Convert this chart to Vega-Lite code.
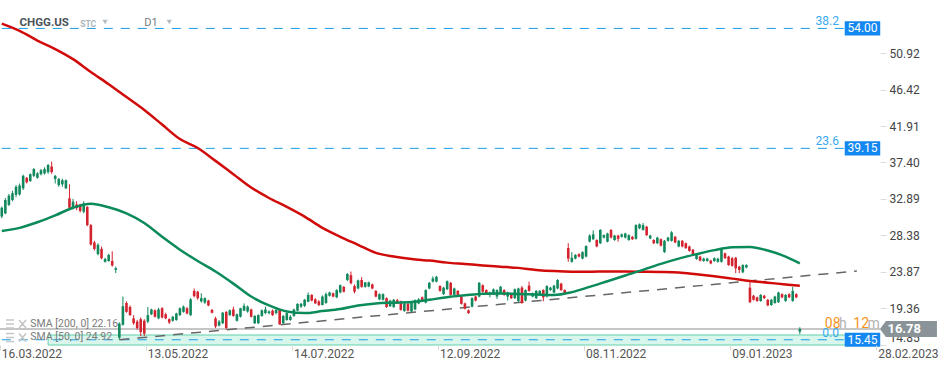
{
  "$schema": "https://vega.github.io/schema/vega-lite/v6.json",
  "width": 880,
  "height": 345,
  "autosize": {"type": "none"},
  "padding": {"left": 0, "top": 0, "right": 69, "bottom": 25},
  "background": "white",
  "config": {"view": {"stroke": null}, "font": "Roboto", "text": {"font": "Roboto"}},
  "datasets": {
    "bars": [
      {"d":"2022-03-16","o":30.7,"h":31.95,"l":30.5,"c":31.8},
      {"d":"2022-03-17","o":31.1,"h":33.0,"l":31.0,"c":32.75},
      {"d":"2022-03-18","o":32.15,"h":33.5,"l":32.0,"c":33.3},
      {"d":"2022-03-21","o":32.75,"h":33.9,"l":32.6,"c":33.6},
      {"d":"2022-03-22","o":33.4,"h":34.6,"l":33.1,"c":34.4},
      {"d":"2022-03-23","o":33.45,"h":34.8,"l":33.3,"c":34.55},
      {"d":"2022-03-24","o":34.2,"h":35.9,"l":34.0,"c":35.75},
      {"d":"2022-03-25","o":35.5,"h":35.6,"l":34.8,"c":34.95},
      {"d":"2022-03-28","o":35.1,"h":36.05,"l":35.0,"c":35.95},
      {"d":"2022-03-29","o":35.75,"h":36.7,"l":35.6,"c":36.6},
      {"d":"2022-03-30","o":35.5,"h":36.2,"l":35.4,"c":36.05},
      {"d":"2022-03-31","o":35.95,"h":36.6,"l":35.8,"c":36.45},
      {"d":"2022-04-01","o":36.05,"h":36.8,"l":35.9,"c":36.6},
      {"d":"2022-04-04","o":36.2,"h":37.2,"l":36.0,"c":37.1},
      {"d":"2022-04-05","o":36.9,"h":37.5,"l":36.0,"c":36.2},
      {"d":"2022-04-06","o":35.35,"h":35.85,"l":34.8,"c":35.75},
      {"d":"2022-04-07","o":34.6,"h":35.5,"l":34.4,"c":35.35},
      {"d":"2022-04-08","o":34.7,"h":35.4,"l":34.4,"c":35.2},
      {"d":"2022-04-11","o":34.2,"h":35.3,"l":34.1,"c":35.2},
      {"d":"2022-04-12","o":32.95,"h":34.7,"l":31.7,"c":31.8},
      {"d":"2022-04-13","o":31.8,"h":32.9,"l":31.6,"c":32.55},
      {"d":"2022-04-14","o":32.2,"h":32.6,"l":31.5,"c":31.75},
      {"d":"2022-04-18","o":32.15,"h":32.3,"l":31.2,"c":31.4},
      {"d":"2022-04-19","o":31.3,"h":32.6,"l":31.1,"c":32.35},
      {"d":"2022-04-20","o":31.9,"h":32.0,"l":29.5,"c":29.65},
      {"d":"2022-04-21","o":29.65,"h":29.8,"l":27.1,"c":27.25},
      {"d":"2022-04-22","o":27.5,"h":27.7,"l":26.5,"c":26.7},
      {"d":"2022-04-25","o":26.05,"h":27.4,"l":25.9,"c":27.2},
      {"d":"2022-04-26","o":26.7,"h":27.0,"l":25.4,"c":25.55},
      {"d":"2022-04-27","o":25.1,"h":25.6,"l":25.0,"c":25.45},
      {"d":"2022-04-28","o":25.2,"h":26.1,"l":25.1,"c":25.95},
      {"d":"2022-04-29","o":25.2,"h":26.4,"l":24.5,"c":24.65},
      {"d":"2022-05-02","o":24.1,"h":24.5,"l":23.7,"c":24.3},
      {"d":"2022-05-03","o":15.7,"h":17.6,"l":15.45,"c":17.45},
      {"d":"2022-05-04","o":17.3,"h":20.8,"l":17.2,"c":19.6},
      {"d":"2022-05-05","o":20.0,"h":20.2,"l":18.8,"c":18.9},
      {"d":"2022-05-06","o":19.5,"h":19.7,"l":18.4,"c":18.5},
      {"d":"2022-05-09","o":18.1,"h":18.5,"l":17.3,"c":17.5},
      {"d":"2022-05-10","o":17.7,"h":17.9,"l":16.7,"c":16.9},
      {"d":"2022-05-11","o":18.0,"h":18.2,"l":15.9,"c":16.4},
      {"d":"2022-05-12","o":17.8,"h":18.0,"l":15.9,"c":16.2},
      {"d":"2022-05-13","o":17.7,"h":19.5,"l":17.5,"c":18.5},
      {"d":"2022-05-16","o":18.6,"h":19.3,"l":18.5,"c":19.2},
      {"d":"2022-05-17","o":19.1,"h":19.2,"l":18.2,"c":18.3},
      {"d":"2022-05-18","o":18.1,"h":19.4,"l":18.0,"c":19.2},
      {"d":"2022-05-19","o":19.35,"h":19.5,"l":18.1,"c":18.2},
      {"d":"2022-05-20","o":18.6,"h":18.8,"l":18.0,"c":18.1},
      {"d":"2022-05-23","o":18.0,"h":18.1,"l":17.4,"c":17.6},
      {"d":"2022-05-24","o":17.8,"h":18.4,"l":17.7,"c":18.3},
      {"d":"2022-05-25","o":17.9,"h":18.8,"l":17.8,"c":18.7},
      {"d":"2022-05-26","o":18.5,"h":19.45,"l":18.4,"c":19.35},
      {"d":"2022-05-27","o":18.9,"h":19.7,"l":18.8,"c":19.55},
      {"d":"2022-05-31","o":19.35,"h":19.5,"l":18.6,"c":18.7},
      {"d":"2022-06-01","o":18.5,"h":20.6,"l":18.4,"c":20.45},
      {"d":"2022-06-02","o":21.5,"h":21.8,"l":20.7,"c":20.85},
      {"d":"2022-06-03","o":21.4,"h":21.5,"l":20.4,"c":20.6},
      {"d":"2022-06-06","o":20.2,"h":21.2,"l":20.05,"c":20.6},
      {"d":"2022-06-07","o":20.05,"h":20.7,"l":19.9,"c":20.6},
      {"d":"2022-06-08","o":20.3,"h":20.4,"l":19.6,"c":19.7},
      {"d":"2022-06-09","o":19.15,"h":19.25,"l":18.7,"c":18.8},
      {"d":"2022-06-10","o":18.1,"h":18.3,"l":16.9,"c":17.1},
      {"d":"2022-06-13","o":17.2,"h":17.9,"l":17.1,"c":17.7},
      {"d":"2022-06-14","o":17.5,"h":18.9,"l":17.4,"c":18.8},
      {"d":"2022-06-15","o":18.9,"h":19.0,"l":16.7,"c":16.9},
      {"d":"2022-06-16","o":18.5,"h":19.2,"l":18.4,"c":19.1},
      {"d":"2022-06-17","o":19.2,"h":19.55,"l":18.3,"c":18.4},
      {"d":"2022-06-21","o":17.8,"h":18.7,"l":17.7,"c":18.6},
      {"d":"2022-06-22","o":18.3,"h":19.4,"l":18.2,"c":19.35},
      {"d":"2022-06-23","o":19.05,"h":19.95,"l":19.0,"c":19.65},
      {"d":"2022-06-24","o":18.95,"h":19.7,"l":18.8,"c":19.55},
      {"d":"2022-06-27","o":19.2,"h":19.3,"l":18.2,"c":18.3},
      {"d":"2022-06-28","o":17.5,"h":18.5,"l":17.4,"c":18.4},
      {"d":"2022-06-29","o":17.5,"h":18.6,"l":17.4,"c":18.5},
      {"d":"2022-06-30","o":18.4,"h":19.2,"l":18.3,"c":19.1},
      {"d":"2022-07-01","o":18.75,"h":19.55,"l":18.6,"c":19.2},
      {"d":"2022-07-05","o":18.75,"h":19.1,"l":18.6,"c":18.95},
      {"d":"2022-07-06","o":19.05,"h":19.2,"l":18.4,"c":18.5},
      {"d":"2022-07-07","o":18.75,"h":19.3,"l":18.6,"c":19.15},
      {"d":"2022-07-08","o":19.15,"h":19.3,"l":17.3,"c":17.35},
      {"d":"2022-07-11","o":17.5,"h":18.5,"l":17.4,"c":18.4},
      {"d":"2022-07-12","o":17.9,"h":18.8,"l":17.8,"c":18.75},
      {"d":"2022-07-13","o":17.9,"h":18.5,"l":17.8,"c":18.3},
      {"d":"2022-07-14","o":18.4,"h":19.3,"l":18.3,"c":19.2},
      {"d":"2022-07-15","o":19.05,"h":19.95,"l":19.0,"c":19.9},
      {"d":"2022-07-18","o":19.55,"h":20.0,"l":19.4,"c":19.9},
      {"d":"2022-07-19","o":19.65,"h":20.5,"l":19.5,"c":20.4},
      {"d":"2022-07-20","o":20.15,"h":21.3,"l":20.1,"c":21.0},
      {"d":"2022-07-21","o":21.0,"h":21.1,"l":20.2,"c":20.3},
      {"d":"2022-07-22","o":20.45,"h":20.6,"l":19.9,"c":19.95},
      {"d":"2022-07-25","o":20.2,"h":20.35,"l":19.6,"c":19.75},
      {"d":"2022-07-26","o":19.75,"h":20.95,"l":19.7,"c":20.8},
      {"d":"2022-07-27","o":20.0,"h":21.3,"l":19.9,"c":21.1},
      {"d":"2022-07-28","o":20.9,"h":21.4,"l":20.8,"c":21.3},
      {"d":"2022-07-29","o":21.2,"h":21.3,"l":20.7,"c":20.8},
      {"d":"2022-08-01","o":20.7,"h":21.7,"l":20.6,"c":21.6},
      {"d":"2022-08-02","o":21.3,"h":22.3,"l":21.2,"c":22.2},
      {"d":"2022-08-03","o":22.0,"h":22.1,"l":21.3,"c":21.4},
      {"d":"2022-08-04","o":22.85,"h":23.7,"l":22.7,"c":23.6},
      {"d":"2022-08-05","o":23.45,"h":23.9,"l":22.3,"c":22.45},
      {"d":"2022-08-08","o":22.1,"h":22.3,"l":21.2,"c":21.4},
      {"d":"2022-08-09","o":21.8,"h":22.9,"l":21.7,"c":22.8},
      {"d":"2022-08-10","o":22.85,"h":23.2,"l":21.9,"c":22.0},
      {"d":"2022-08-11","o":22.0,"h":22.6,"l":21.9,"c":22.55},
      {"d":"2022-08-12","o":22.05,"h":22.65,"l":21.95,"c":22.55},
      {"d":"2022-08-15","o":22.3,"h":22.4,"l":21.7,"c":21.8},
      {"d":"2022-08-16","o":21.5,"h":21.6,"l":20.7,"c":20.8},
      {"d":"2022-08-17","o":20.45,"h":21.2,"l":20.35,"c":21.1},
      {"d":"2022-08-18","o":20.4,"h":21.2,"l":20.3,"c":21.1},
      {"d":"2022-08-19","o":20.6,"h":20.7,"l":19.4,"c":19.5},
      {"d":"2022-08-22","o":19.6,"h":20.4,"l":19.5,"c":20.3},
      {"d":"2022-08-23","o":19.5,"h":20.5,"l":19.4,"c":20.4},
      {"d":"2022-08-24","o":20.35,"h":20.5,"l":19.9,"c":19.95},
      {"d":"2022-08-25","o":20.15,"h":20.3,"l":19.05,"c":19.15},
      {"d":"2022-08-26","o":19.0,"h":20.05,"l":18.9,"c":19.95},
      {"d":"2022-08-29","o":19.9,"h":20.0,"l":18.95,"c":19.05},
      {"d":"2022-08-30","o":18.95,"h":20.15,"l":18.85,"c":20.05},
      {"d":"2022-08-31","o":19.2,"h":20.45,"l":19.1,"c":20.35},
      {"d":"2022-09-01","o":19.95,"h":20.6,"l":19.85,"c":20.45},
      {"d":"2022-09-02","o":20.7,"h":20.8,"l":20.2,"c":20.3},
      {"d":"2022-09-06","o":20.05,"h":21.7,"l":19.95,"c":21.6},
      {"d":"2022-09-07","o":21.8,"h":22.6,"l":21.7,"c":22.5},
      {"d":"2022-09-08","o":22.65,"h":23.3,"l":22.55,"c":23.05},
      {"d":"2022-09-09","o":22.65,"h":23.35,"l":22.55,"c":23.25},
      {"d":"2022-09-12","o":22.1,"h":22.2,"l":21.4,"c":21.5},
      {"d":"2022-09-13","o":21.1,"h":22.0,"l":21.0,"c":21.9},
      {"d":"2022-09-14","o":21.7,"h":22.8,"l":21.6,"c":22.7},
      {"d":"2022-09-15","o":22.5,"h":22.6,"l":20.9,"c":21.0},
      {"d":"2022-09-16","o":21.0,"h":21.9,"l":20.9,"c":21.8},
      {"d":"2022-09-19","o":21.5,"h":21.6,"l":20.9,"c":21.0},
      {"d":"2022-09-20","o":20.8,"h":20.9,"l":19.8,"c":19.9},
      {"d":"2022-09-21","o":19.95,"h":20.05,"l":19.2,"c":19.3},
      {"d":"2022-09-22","o":19.1,"h":19.2,"l":18.65,"c":18.75},
      {"d":"2022-09-23","o":19.55,"h":20.7,"l":19.45,"c":20.6},
      {"d":"2022-09-26","o":20.8,"h":20.9,"l":20.2,"c":20.3},
      {"d":"2022-09-27","o":20.8,"h":22.6,"l":20.7,"c":22.5},
      {"d":"2022-09-28","o":22.2,"h":22.3,"l":21.3,"c":21.4},
      {"d":"2022-09-29","o":21.6,"h":21.7,"l":21.1,"c":21.2},
      {"d":"2022-09-30","o":21.0,"h":21.4,"l":20.7,"c":21.3},
      {"d":"2022-10-03","o":21.1,"h":21.8,"l":21.0,"c":21.7},
      {"d":"2022-10-04","o":20.8,"h":21.7,"l":20.5,"c":21.6},
      {"d":"2022-10-05","o":21.2,"h":22.1,"l":21.1,"c":22.03},
      {"d":"2022-10-06","o":21.6,"h":21.7,"l":20.9,"c":21.0},
      {"d":"2022-10-07","o":20.8,"h":21.4,"l":20.3,"c":21.3},
      {"d":"2022-10-10","o":21.1,"h":21.2,"l":20.5,"c":20.6},
      {"d":"2022-10-11","o":20.6,"h":21.8,"l":20.5,"c":21.7},
      {"d":"2022-10-12","o":20.25,"h":21.9,"l":20.1,"c":21.8},
      {"d":"2022-10-13","o":21.9,"h":22.1,"l":19.9,"c":20.0},
      {"d":"2022-10-14","o":20.3,"h":21.7,"l":20.2,"c":21.6},
      {"d":"2022-10-17","o":22.15,"h":22.65,"l":21.4,"c":21.5},
      {"d":"2022-10-18","o":20.8,"h":21.3,"l":20.7,"c":21.2},
      {"d":"2022-10-19","o":20.6,"h":21.6,"l":20.5,"c":21.5},
      {"d":"2022-10-20","o":21.0,"h":21.6,"l":20.9,"c":21.5},
      {"d":"2022-10-21","o":21.6,"h":21.7,"l":20.2,"c":20.7},
      {"d":"2022-10-24","o":20.8,"h":22.2,"l":20.7,"c":22.1},
      {"d":"2022-10-25","o":21.6,"h":22.0,"l":21.5,"c":21.9},
      {"d":"2022-10-26","o":21.3,"h":22.25,"l":21.2,"c":22.15},
      {"d":"2022-10-27","o":21.8,"h":22.95,"l":21.7,"c":22.85},
      {"d":"2022-10-28","o":22.4,"h":22.5,"l":21.5,"c":21.6},
      {"d":"2022-10-31","o":21.6,"h":21.7,"l":21.1,"c":21.2},
      {"d":"2022-11-01","o":26.8,"h":27.4,"l":25.1,"c":25.5},
      {"d":"2022-11-02","o":25.1,"h":26.3,"l":25.0,"c":25.6},
      {"d":"2022-11-03","o":25.5,"h":26.05,"l":25.4,"c":25.95},
      {"d":"2022-11-04","o":26.05,"h":26.15,"l":25.65,"c":25.75},
      {"d":"2022-11-07","o":25.5,"h":26.4,"l":25.4,"c":26.3},
      {"d":"2022-11-08","o":25.75,"h":27.15,"l":25.65,"c":27.05},
      {"d":"2022-11-09","o":27.6,"h":28.5,"l":27.5,"c":28.35},
      {"d":"2022-11-10","o":27.9,"h":29.0,"l":27.8,"c":28.5},
      {"d":"2022-11-11","o":27.8,"h":27.9,"l":26.9,"c":27.0},
      {"d":"2022-11-14","o":27.4,"h":29.15,"l":27.3,"c":29.05},
      {"d":"2022-11-15","o":28.1,"h":28.5,"l":28.0,"c":28.4},
      {"d":"2022-11-16","o":27.6,"h":28.7,"l":27.5,"c":28.6},
      {"d":"2022-11-17","o":29.05,"h":29.15,"l":28.0,"c":28.1},
      {"d":"2022-11-18","o":27.8,"h":28.45,"l":27.7,"c":28.35},
      {"d":"2022-11-21","o":28.35,"h":28.45,"l":27.6,"c":27.95},
      {"d":"2022-11-22","o":28.2,"h":28.6,"l":28.1,"c":28.5},
      {"d":"2022-11-23","o":28.1,"h":28.7,"l":28.0,"c":28.6},
      {"d":"2022-11-25","o":27.8,"h":28.5,"l":27.7,"c":28.4},
      {"d":"2022-11-28","o":28.2,"h":28.3,"l":27.8,"c":27.9},
      {"d":"2022-11-29","o":27.95,"h":29.75,"l":27.85,"c":29.65},
      {"d":"2022-11-30","o":29.25,"h":29.85,"l":29.15,"c":29.75},
      {"d":"2022-12-01","o":29.05,"h":29.9,"l":28.95,"c":29.65},
      {"d":"2022-12-02","o":29.45,"h":29.55,"l":28.3,"c":28.4},
      {"d":"2022-12-05","o":28.0,"h":28.45,"l":27.9,"c":28.35},
      {"d":"2022-12-06","o":27.8,"h":27.9,"l":27.3,"c":27.4},
      {"d":"2022-12-07","o":27.4,"h":28.2,"l":27.3,"c":28.1},
      {"d":"2022-12-08","o":27.9,"h":28.0,"l":27.0,"c":27.1},
      {"d":"2022-12-09","o":26.3,"h":27.8,"l":26.2,"c":27.7},
      {"d":"2022-12-12","o":27.7,"h":28.2,"l":27.6,"c":28.1},
      {"d":"2022-12-13","o":27.7,"h":28.9,"l":27.6,"c":28.75},
      {"d":"2022-12-14","o":28.2,"h":28.3,"l":27.4,"c":27.5},
      {"d":"2022-12-15","o":27.0,"h":27.8,"l":26.9,"c":27.7},
      {"d":"2022-12-16","o":27.7,"h":27.8,"l":26.9,"c":27.0},
      {"d":"2022-12-19","o":27.4,"h":27.5,"l":26.7,"c":26.8},
      {"d":"2022-12-20","o":27.0,"h":27.1,"l":26.35,"c":26.45},
      {"d":"2022-12-21","o":26.6,"h":26.7,"l":25.9,"c":26.0},
      {"d":"2022-12-22","o":25.45,"h":26.1,"l":25.35,"c":26.0},
      {"d":"2022-12-23","o":25.75,"h":25.85,"l":25.15,"c":25.25},
      {"d":"2022-12-27","o":25.2,"h":25.6,"l":25.1,"c":25.5},
      {"d":"2022-12-28","o":25.2,"h":25.6,"l":25.1,"c":25.5},
      {"d":"2022-12-29","o":25.25,"h":25.35,"l":24.8,"c":24.9},
      {"d":"2022-12-30","o":25.2,"h":25.65,"l":25.1,"c":25.55},
      {"d":"2023-01-03","o":25.1,"h":25.6,"l":25.0,"c":25.5},
      {"d":"2023-01-04","o":25.1,"h":26.8,"l":25.0,"c":26.7},
      {"d":"2023-01-05","o":26.15,"h":26.25,"l":25.45,"c":25.55},
      {"d":"2023-01-06","o":25.75,"h":25.85,"l":24.6,"c":24.7},
      {"d":"2023-01-09","o":25.55,"h":25.7,"l":24.5,"c":24.6},
      {"d":"2023-01-10","o":25.6,"h":25.7,"l":23.7,"c":24.3},
      {"d":"2023-01-11","o":24.5,"h":24.6,"l":23.7,"c":24.1},
      {"d":"2023-01-12","o":23.8,"h":24.8,"l":23.7,"c":24.7},
      {"d":"2023-01-13","o":24.4,"h":24.8,"l":24.3,"c":24.7},
      {"d":"2023-01-17","o":21.9,"h":22.65,"l":20.0,"c":20.1},
      {"d":"2023-01-18","o":20.9,"h":21.0,"l":20.3,"c":20.4},
      {"d":"2023-01-19","o":20.7,"h":20.8,"l":20.15,"c":20.25},
      {"d":"2023-01-20","o":20.25,"h":21.1,"l":20.15,"c":21.0},
      {"d":"2023-01-23","o":20.9,"h":21.0,"l":20.5,"c":20.6},
      {"d":"2023-01-24","o":20.4,"h":20.5,"l":19.6,"c":19.7},
      {"d":"2023-01-25","o":19.75,"h":20.5,"l":19.65,"c":20.4},
      {"d":"2023-01-26","o":20.0,"h":20.9,"l":19.9,"c":20.8},
      {"d":"2023-01-27","o":20.1,"h":21.4,"l":20.0,"c":21.3},
      {"d":"2023-01-30","o":21.1,"h":21.2,"l":20.6,"c":20.7},
      {"d":"2023-01-31","o":20.25,"h":21.1,"l":20.15,"c":21.0},
      {"d":"2023-02-01","o":21.1,"h":21.2,"l":20.6,"c":20.7},
      {"d":"2023-02-02","o":20.25,"h":22.0,"l":20.15,"c":21.5},
      {"d":"2023-02-03","o":21.1,"h":21.2,"l":20.6,"c":20.7},
      {"d":"2023-02-06","o":16.45,"h":17.0,"l":16.15,"c":16.78}
    ],
    "sma": [
      {"d":"2022-03-16","s200":54.6,"s50":28.92},
      {"d":"2022-03-23","s200":53.7,"s50":29.3},
      {"d":"2022-03-30","s200":52.5,"s50":30.0},
      {"d":"2022-04-06","s200":51.45,"s50":30.85},
      {"d":"2022-04-13","s200":50.2,"s50":31.8},
      {"d":"2022-04-21","s200":48.6,"s50":32.3},
      {"d":"2022-04-28","s200":47.1,"s50":31.85},
      {"d":"2022-05-05","s200":45.5,"s50":31.1},
      {"d":"2022-05-12","s200":43.9,"s50":29.9},
      {"d":"2022-05-19","s200":42.1,"s50":28.2},
      {"d":"2022-05-26","s200":40.3,"s50":26.6},
      {"d":"2022-06-03","s200":39.2,"s50":25.2},
      {"d":"2022-06-10","s200":37.6,"s50":23.9},
      {"d":"2022-06-17","s200":35.95,"s50":22.4},
      {"d":"2022-06-27","s200":34.3,"s50":20.8},
      {"d":"2022-07-05","s200":33.0,"s50":19.7},
      {"d":"2022-07-12","s200":31.9,"s50":18.95},
      {"d":"2022-07-19","s200":30.7,"s50":18.75},
      {"d":"2022-07-26","s200":29.3,"s50":19.0},
      {"d":"2022-08-02","s200":28.2,"s50":19.25},
      {"d":"2022-08-09","s200":27.2,"s50":19.7},
      {"d":"2022-08-16","s200":26.2,"s50":19.95},
      {"d":"2022-08-23","s200":25.75,"s50":20.04},
      {"d":"2022-08-30","s200":25.45,"s50":20.12},
      {"d":"2022-09-07","s200":25.25,"s50":20.4},
      {"d":"2022-09-14","s200":25.0,"s50":20.72},
      {"d":"2022-09-21","s200":24.83,"s50":20.95},
      {"d":"2022-09-28","s200":24.65,"s50":21.15},
      {"d":"2022-10-05","s200":24.5,"s50":21.19},
      {"d":"2022-10-12","s200":24.35,"s50":21.1},
      {"d":"2022-10-19","s200":24.1,"s50":21.05},
      {"d":"2022-10-26","s200":23.95,"s50":21.0},
      {"d":"2022-11-02","s200":23.88,"s50":21.35},
      {"d":"2022-11-09","s200":23.88,"s50":22.0},
      {"d":"2022-11-16","s200":23.9,"s50":22.7},
      {"d":"2022-11-23","s200":23.9,"s50":23.4},
      {"d":"2022-12-01","s200":23.88,"s50":24.1},
      {"d":"2022-12-08","s200":23.85,"s50":24.85},
      {"d":"2022-12-15","s200":23.78,"s50":25.5},
      {"d":"2022-12-22","s200":23.55,"s50":26.05},
      {"d":"2022-12-30","s200":23.3,"s50":26.55},
      {"d":"2023-01-09","s200":23.02,"s50":26.9},
      {"d":"2023-01-17","s200":22.73,"s50":26.95},
      {"d":"2023-01-24","s200":22.52,"s50":26.5},
      {"d":"2023-01-31","s200":22.3,"s50":25.75},
      {"d":"2023-02-06","s200":22.15,"s50":24.92}
    ],
    "fib": [
      {"lvl":"38.2","p":54.00},
      {"lvl":"23.6","p":39.15},
      {"lvl":"0.0","p":15.45}
    ],
    "trend": [
      {"d":"2022-05-03","p":15.45},
      {"d":"2023-02-22","p":23.96}
    ],
    "last": [{"p":16.78}]
  },
  "layer": [
    {
      "data": {"name": "last"},
      "mark": {"type": "rect", "fill": "#d9f6ec", "stroke": "#62d2ab", "strokeWidth": 1},
      "encoding": {
        "x": {
          "datum": "2022-04-04", "type": "ordinal",
          "scale": {"type": "band", "paddingInner": 0, "paddingOuter": 0,
            "domain": ["2022-03-16","2022-03-17","2022-03-18","2022-03-21","2022-03-22","2022-03-23","2022-03-24","2022-03-25","2022-03-28","2022-03-29","2022-03-30","2022-03-31",
              "2022-04-01","2022-04-04","2022-04-05","2022-04-06","2022-04-07","2022-04-08","2022-04-11","2022-04-12","2022-04-13","2022-04-14","2022-04-18","2022-04-19","2022-04-20","2022-04-21","2022-04-22","2022-04-25","2022-04-26","2022-04-27","2022-04-28","2022-04-29",
              "2022-05-02","2022-05-03","2022-05-04","2022-05-05","2022-05-06","2022-05-09","2022-05-10","2022-05-11","2022-05-12","2022-05-13","2022-05-16","2022-05-17","2022-05-18","2022-05-19","2022-05-20","2022-05-23","2022-05-24","2022-05-25","2022-05-26","2022-05-27","2022-05-31",
              "2022-06-01","2022-06-02","2022-06-03","2022-06-06","2022-06-07","2022-06-08","2022-06-09","2022-06-10","2022-06-13","2022-06-14","2022-06-15","2022-06-16","2022-06-17","2022-06-21","2022-06-22","2022-06-23","2022-06-24","2022-06-27","2022-06-28","2022-06-29","2022-06-30",
              "2022-07-01","2022-07-05","2022-07-06","2022-07-07","2022-07-08","2022-07-11","2022-07-12","2022-07-13","2022-07-14","2022-07-15","2022-07-18","2022-07-19","2022-07-20","2022-07-21","2022-07-22","2022-07-25","2022-07-26","2022-07-27","2022-07-28","2022-07-29",
              "2022-08-01","2022-08-02","2022-08-03","2022-08-04","2022-08-05","2022-08-08","2022-08-09","2022-08-10","2022-08-11","2022-08-12","2022-08-15","2022-08-16","2022-08-17","2022-08-18","2022-08-19","2022-08-22","2022-08-23","2022-08-24","2022-08-25","2022-08-26","2022-08-29","2022-08-30","2022-08-31",
              "2022-09-01","2022-09-02","2022-09-06","2022-09-07","2022-09-08","2022-09-09","2022-09-12","2022-09-13","2022-09-14","2022-09-15","2022-09-16","2022-09-19","2022-09-20","2022-09-21","2022-09-22","2022-09-23","2022-09-26","2022-09-27","2022-09-28","2022-09-29","2022-09-30",
              "2022-10-03","2022-10-04","2022-10-05","2022-10-06","2022-10-07","2022-10-10","2022-10-11","2022-10-12","2022-10-13","2022-10-14","2022-10-17","2022-10-18","2022-10-19","2022-10-20","2022-10-21","2022-10-24","2022-10-25","2022-10-26","2022-10-27","2022-10-28","2022-10-31",
              "2022-11-01","2022-11-02","2022-11-03","2022-11-04","2022-11-07","2022-11-08","2022-11-09","2022-11-10","2022-11-11","2022-11-14","2022-11-15","2022-11-16","2022-11-17","2022-11-18","2022-11-21","2022-11-22","2022-11-23","2022-11-25","2022-11-28","2022-11-29","2022-11-30",
              "2022-12-01","2022-12-02","2022-12-05","2022-12-06","2022-12-07","2022-12-08","2022-12-09","2022-12-12","2022-12-13","2022-12-14","2022-12-15","2022-12-16","2022-12-19","2022-12-20","2022-12-21","2022-12-22","2022-12-23","2022-12-27","2022-12-28","2022-12-29","2022-12-30",
              "2023-01-03","2023-01-04","2023-01-05","2023-01-06","2023-01-09","2023-01-10","2023-01-11","2023-01-12","2023-01-13","2023-01-17","2023-01-18","2023-01-19","2023-01-20","2023-01-23","2023-01-24","2023-01-25","2023-01-26","2023-01-27","2023-01-30","2023-01-31",
              "2023-02-01","2023-02-02","2023-02-03","2023-02-06","2023-02-07","2023-02-08","2023-02-09","2023-02-10","2023-02-11","2023-02-12","2023-02-13","2023-02-14","2023-02-15","2023-02-16","2023-02-17","2023-02-18","2023-02-19","2023-02-20","2023-02-21","2023-02-22","2023-02-23","2023-02-24","2023-02-25","2023-02-26","2023-02-27","2023-02-28"]},
          "axis": {
            "title": null, "domain": false, "grid": false,
            "values": ["2022-03-16","2022-05-13","2022-07-14","2022-09-12","2022-11-08","2023-01-09","2023-02-28"],
            "labelExpr": "substring(datum.value,8,10)+'.'+substring(datum.value,5,7)+'.'+substring(datum.value,0,4)",
            "bandPosition": 0, "labelAlign": "left", "labelAngle": 0, "labelDx": 2,
            "labelBaseline": "top", "labelPadding": -2, "tickSize": 5, "tickColor": "#d9d9d9",
            "labelColor": "#555555", "labelFontSize": 12, "labelFont": "Roboto",
            "labelOverlap": false, "labelBound": false, "labelFlush": false
          }
        },
        "x2": {"datum": "2023-02-28"},
        "y": {
          "datum": 16.04, "type": "quantitative",
          "scale": {"domain": [14.8, 57.52], "zero": false, "nice": false},
          "axis": {
            "orient": "right", "title": null, "domain": false, "grid": false,
            "values": [14.85, 19.36, 23.87, 28.38, 32.89, 37.40, 41.91, 46.42, 50.92],
            "format": ".2f", "tickSize": 6, "tickColor": "#dddddd", "labelPadding": 3,
            "labelBaseline": {"condition": {"test": "datum.value < 15", "value": "bottom"}, "value": "middle"},
            "labelColor": "#444444", "labelFontSize": 12, "labelFont": "Roboto", "labelOverlap": false
          }
        },
        "y2": {"datum": 14.8}
      }
    },
    {
      "data": {"name": "fib"},
      "mark": {"type": "rule", "stroke": "#1a9be6", "strokeWidth": 1, "strokeDash": [9, 8]},
      "encoding": {
        "x": {"datum": "2022-03-16", "type": "ordinal"},
        "x2": {"datum": "2023-02-19"},
        "y": {"field": "p", "type": "quantitative"}
      }
    },
    {
      "data": {"name": "last"},
      "mark": {"type": "rule", "stroke": "#8c8c8c", "strokeWidth": 1},
      "encoding": {"y": {"field": "p", "type": "quantitative"}}
    },
    {
      "data": {"name": "trend"},
      "mark": {"type": "line", "stroke": "#666666", "strokeWidth": 1.5, "strokeDash": [10, 8]},
      "encoding": {
        "x": {"field": "d", "type": "ordinal"},
        "y": {"field": "p", "type": "quantitative"}
      }
    },
    {
      "data": {"name": "bars"},
      "mark": {"type": "rule", "strokeWidth": 1},
      "encoding": {
        "x": {"field": "d", "type": "ordinal"},
        "y": {"field": "l", "type": "quantitative"},
        "y2": {"field": "h"},
        "color": {"condition": {"test": "datum.c >= datum.o", "value": "#12895c"}, "value": "#d3232f"}
      }
    },
    {
      "data": {"name": "bars"},
      "mark": {"type": "bar", "size": 2.6},
      "encoding": {
        "x": {"field": "d", "type": "ordinal"},
        "y": {"field": "o", "type": "quantitative"},
        "y2": {"field": "c"},
        "color": {"condition": {"test": "datum.c >= datum.o", "value": "#12895c"}, "value": "#d3232f"}
      }
    },
    {
      "data": {"name": "sma"},
      "mark": {"type": "line", "strokeWidth": 2.5, "interpolate": "monotone", "stroke": "#d10a0a"},
      "encoding": {
        "x": {"field": "d", "type": "ordinal"},
        "y": {"field": "s200", "type": "quantitative"}
      }
    },
    {
      "data": {"name": "sma"},
      "mark": {"type": "line", "strokeWidth": 2.5, "interpolate": "monotone", "stroke": "#0b8a5a"},
      "encoding": {
        "x": {"field": "d", "type": "ordinal"},
        "y": {"field": "s50", "type": "quantitative"}
      }
    },
    {
      "data": {"name": "last"},
      "mark": {"type": "point", "shape": "M-1,-0.4H-0.2M-1,0H-0.2M-1,0.4H-0.2M0.3,-0.4L1,0.4M0.3,0.4L1,-0.4", "size": 400, "filled": false, "stroke": "#c6c6c6", "strokeWidth": 1.6, "opacity": 1},
      "encoding": {"x": {"datum": "2022-03-22", "type": "ordinal"}, "y": {"datum": 17.4, "type": "quantitative"}}
    },
    {
      "data": {"name": "last"},
      "mark": {"type": "point", "shape": "M-1,-0.4H-0.2M-1,0H-0.2M-1,0.4H-0.2M0.3,-0.4L1,0.4M0.3,0.4L1,-0.4", "size": 400, "filled": false, "stroke": "#c6c6c6", "strokeWidth": 1.6, "opacity": 1},
      "encoding": {"x": {"datum": "2022-03-22", "type": "ordinal"}, "y": {"datum": 15.73, "type": "quantitative"}}
    },
    {
      "data": {"name": "last"},
      "mark": {"type": "text", "align": "left", "baseline": "middle", "fontSize": 10.5, "color": "#7b7b7b", "font": "Roboto"},
      "encoding": {"x": {"datum": "2022-03-28", "type": "ordinal"}, "y": {"datum": 17.4, "type": "quantitative"}, "text": {"value": "SMA [200, 0] 22.16"}}
    },
    {
      "data": {"name": "last"},
      "mark": {"type": "text", "align": "left", "baseline": "middle", "fontSize": 10.5, "color": "#7b7b7b", "font": "Roboto"},
      "encoding": {"x": {"datum": "2022-03-28", "type": "ordinal"}, "y": {"datum": 15.73, "type": "quantitative"}, "text": {"value": "SMA [50, 0] 24.92"}}
    },
    {
      "data": {"name": "fib"},
      "mark": {"type": "text", "align": "right", "baseline": "alphabetic", "dy": -3, "fontSize": 12, "color": "#3aa9ee", "font": "Roboto"},
      "encoding": {
        "x": {"datum": "2023-02-17", "type": "ordinal"},
        "y": {"field": "p", "type": "quantitative"},
        "text": {"field": "lvl"}
      }
    },
    {
      "data": {"name": "fib"},
      "mark": {"type": "point", "shape": "M-1,-0.4H1V0.4H-1Z", "size": 1260, "filled": true, "fill": "#1488f0", "opacity": 1, "strokeWidth": 0, "xOffset": -1.5},
      "encoding": {
        "x": {"datum": "2023-02-24", "type": "ordinal"},
        "y": {"field": "p", "type": "quantitative"}
      }
    },
    {
      "data": {"name": "fib"},
      "mark": {"type": "text", "align": "center", "baseline": "middle", "dx": -1.5, "fontSize": 12, "color": "white", "font": "Roboto"},
      "encoding": {
        "x": {"datum": "2023-02-24", "type": "ordinal"},
        "y": {"field": "p", "type": "quantitative"},
        "text": {"field": "p", "format": ".2f"}
      }
    },
    {
      "data": {"name": "last"},
      "mark": {"type": "point", "shape": "M-1,0L-0.79,-0.28H1V0.28H-0.79Z", "size": 3249, "filled": true, "fill": "#8a9397", "opacity": 1, "strokeWidth": 0, "xOffset": 30.2},
      "encoding": {
        "x": {"datum": "2023-02-28", "type": "ordinal"},
        "y": {"field": "p", "type": "quantitative"}
      }
    },
    {
      "data": {"name": "last"},
      "mark": {"type": "text", "align": "center", "baseline": "middle", "dx": 26, "fontSize": 13, "fontWeight": "bold", "color": "white", "font": "Roboto"},
      "encoding": {
        "x": {"datum": "2023-02-28", "type": "ordinal"},
        "y": {"field": "p", "type": "quantitative"},
        "text": {"field": "p", "format": ".2f"}
      }
    },
    {
      "data": {"name": "last"},
      "mark": {"type": "text", "align": "left", "baseline": "middle", "fontSize": 14, "color": "#f7941d", "font": "Roboto"},
      "encoding": {"x": {"datum": "2023-02-13", "type": "ordinal"}, "y": {"datum": 17.34, "type": "quantitative"}, "text": {"value": "08"}}
    },
    {
      "data": {"name": "last"},
      "mark": {"type": "text", "align": "left", "baseline": "middle", "fontSize": 14, "color": "#b3b3b3", "font": "Roboto"},
      "encoding": {"x": {"datum": "2023-02-17", "type": "ordinal"}, "y": {"datum": 17.34, "type": "quantitative"}, "text": {"value": "h"}}
    },
    {
      "data": {"name": "last"},
      "mark": {"type": "text", "align": "left", "baseline": "middle", "fontSize": 14, "color": "#f7941d", "font": "Roboto"},
      "encoding": {"x": {"datum": "2023-02-21", "type": "ordinal"}, "y": {"datum": 17.34, "type": "quantitative"}, "text": {"value": "12"}}
    },
    {
      "data": {"name": "last"},
      "mark": {"type": "text", "align": "left", "baseline": "middle", "fontSize": 14, "color": "#b3b3b3", "font": "Roboto"},
      "encoding": {"x": {"datum": "2023-02-25", "type": "ordinal"}, "y": {"datum": 17.34, "type": "quantitative"}, "text": {"value": "m"}}
    },
    {
      "data": {"name": "last"},
      "mark": {"type": "text", "align": "left", "baseline": "middle", "fontSize": 11.5, "fontWeight": "bold", "color": "#4b5259", "font": "Roboto"},
      "encoding": {"x": {"datum": "2022-03-23", "type": "ordinal"}, "y": {"datum": 54.67, "type": "quantitative"}, "text": {"value": "CHGG.US"}}
    },
    {
      "data": {"name": "last"},
      "mark": {"type": "text", "align": "left", "baseline": "middle", "fontSize": 8.5, "fontWeight": "bold", "color": "#a9b2ba", "font": "Roboto"},
      "encoding": {"x": {"datum": "2022-04-18", "type": "ordinal"}, "y": {"datum": 54.6, "type": "quantitative"}, "text": {"value": "STC"}}
    },
    {
      "data": {"name": "last"},
      "mark": {"type": "text", "align": "left", "baseline": "middle", "fontSize": 11, "color": "#767d84", "font": "Roboto"},
      "encoding": {"x": {"datum": "2022-05-12", "type": "ordinal"}, "y": {"datum": 54.67, "type": "quantitative"}, "text": {"value": "D1"}}
    },
    {
      "data": {"name": "last"},
      "mark": {"type": "point", "shape": "triangle-down", "size": 28, "filled": true, "fill": "#b5bcc2", "opacity": 1, "strokeWidth": 0},
      "encoding": {"x": {"datum": "2022-04-27", "type": "ordinal"}, "y": {"datum": 54.8, "type": "quantitative"}}
    },
    {
      "data": {"name": "last"},
      "mark": {"type": "point", "shape": "triangle-down", "size": 28, "filled": true, "fill": "#b5bcc2", "opacity": 1, "strokeWidth": 0},
      "encoding": {"x": {"datum": "2022-05-23", "type": "ordinal"}, "y": {"datum": 54.8, "type": "quantitative"}}
    }
  ]
}
